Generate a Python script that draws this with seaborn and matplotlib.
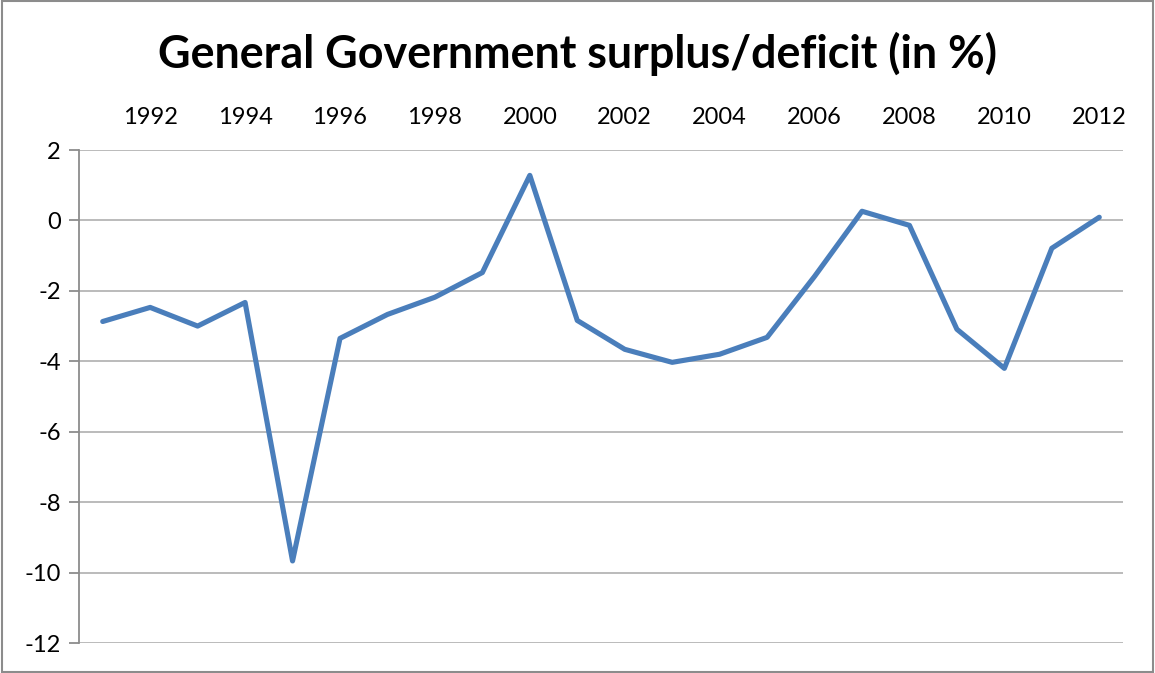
import matplotlib
matplotlib.use("Agg")
import matplotlib.pyplot as plt
from matplotlib.patches import Rectangle
import seaborn as sns
import pandas as pd

years = list(range(1991, 2013))
balance = [-2.87, -2.47, -3.00, -2.33, -9.67, -3.35, -2.67, -2.18, -1.48, 1.28,
           -2.84, -3.66, -4.03, -3.80, -3.32, -1.59, 0.26, -0.14, -3.09, -4.20,
           -0.79, 0.09]
yticks = [2, 0, -2, -4, -6, -8, -10, -12]

df = pd.DataFrame({"pos": range(len(years)), "balance": balance})

sns.set_theme(style="white")
plt.rcParams["font.family"] = ["Lato", "DejaVu Sans"]

fig = plt.figure(figsize=(11.55, 6.73), dpi=100)
ax = fig.add_axes([79 / 1155, 1 - 643 / 673, (1123 - 79) / 1155, (643 - 150) / 673])

sns.lineplot(data=df, x="pos", y="balance", ax=ax, color="#4A7EBB",
             linewidth=3.7, solid_capstyle="round", solid_joinstyle="round")

ax.set_xlim(-0.5, len(years) - 0.5)
ax.set_ylim(-12, 2)
ax.set_yticks(yticks)
ax.set_yticklabels([str(v) for v in yticks], fontsize=17, color="black")
ax.yaxis.grid(True, color="#BBBBBB", linewidth=1.4)
ax.set_axisbelow(True)

label_pos = [i for i, y in enumerate(years) if y % 2 == 0]
ax.set_xticks(label_pos)
ax.set_xticklabels([str(years[i]) for i in label_pos], fontsize=17, color="black")
ax.xaxis.tick_top()
ax.tick_params(axis="x", length=0, pad=16)
ax.tick_params(axis="y", left=True, length=7, width=1.3, color="#8C8C8C", pad=6)

for side in ["top", "right", "bottom"]:
    ax.spines[side].set_visible(False)
ax.spines["left"].set_color("#8C8C8C")
ax.spines["left"].set_linewidth(1.3)
ax.set_xlabel("")
ax.set_ylabel("")

fig.text(0.5, 1 - 54 / 673, "General Government surplus/deficit (in %)",
         ha="center", va="center", fontsize=32.3, fontweight="bold", color="black")

fig.patches.append(Rectangle((2 / 1155, 1 / 673), 1151 / 1155, 671 / 673,
                             transform=fig.transFigure, fill=False,
                             edgecolor="#8C8C8C", linewidth=1.5))

fig.savefig("out.png", dpi=100)
